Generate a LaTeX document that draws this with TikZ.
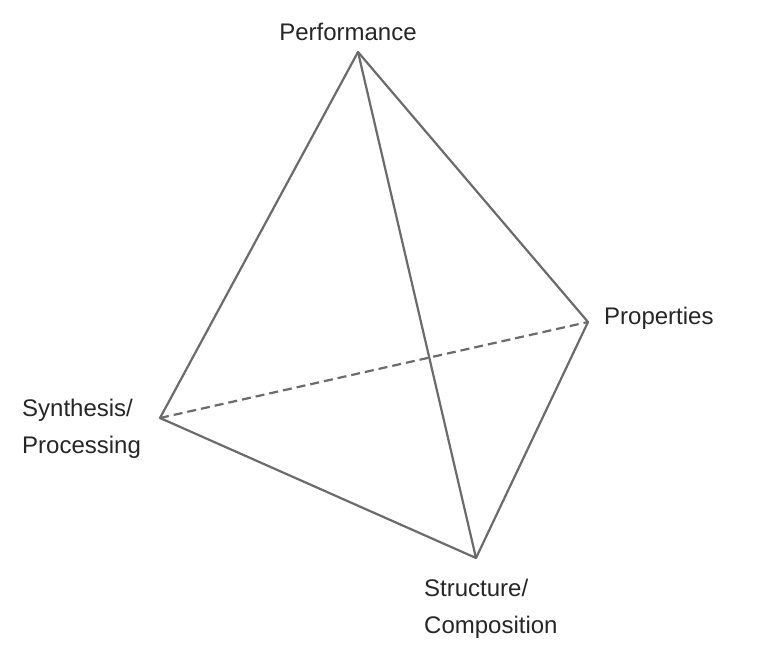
\documentclass[tikz,border=0pt]{standalone}
\usepackage{fontspec}
\setmainfont{Liberation Sans}
\begin{document}
\begin{tikzpicture}[x=1pt,y=-1pt,
  edge/.style={draw=black!58,line width=2.2pt},
  lbl/.style={font=\fontsize{24}{37}\selectfont,text=black!85,inner sep=0pt}]
\useasboundingbox (0,0) rectangle (757,660);
\coordinate (T) at (358,52);
\coordinate (R) at (588,322);
\coordinate (L) at (160,418);
\coordinate (B) at (476,558);
\draw[edge,line join=round] (L) -- (T) -- (R) -- (B) -- cycle;
\draw[edge] (T) -- (B);
\draw[edge,dashed,dash pattern=on 9pt off 5pt] (L) -- (R);
\node[lbl] (perf) at (348,32) {Performance};
\node[lbl,anchor=west] (prop) at (604,318) {Properties};
\node[lbl,anchor=west,align=left] (syn) at (22,429) {Synthesis/\\Processing};
\node[lbl,anchor=west,align=left] (str) at (424,609) {Structure/\\Composition};
\end{tikzpicture}
\end{document}
